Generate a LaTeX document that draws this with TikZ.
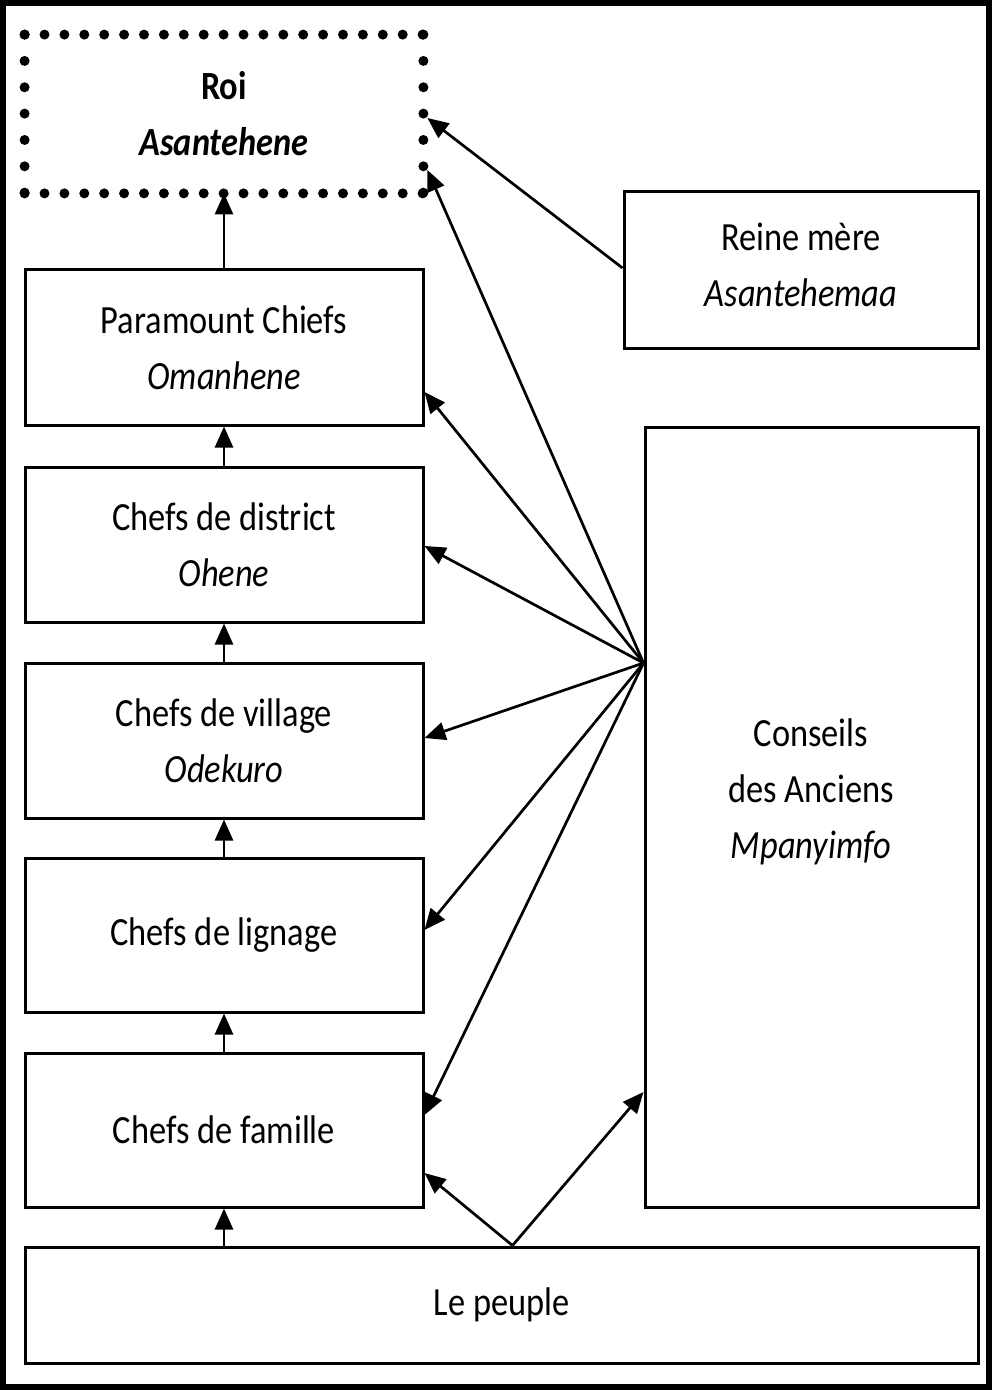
\documentclass[tikz,border=0pt]{standalone}
\usepackage{fontspec}
\setmainfont{Carlito}[FakeStretch=0.86]
\usetikzlibrary{arrows.meta,calc}
\begin{document}
\begin{tikzpicture}[x=0.5pt,y=-0.5pt,
  box/.style={draw,line width=1.5pt,inner sep=0pt,align=center,font=\lblfont},
  lbl/.style={inner sep=0pt,align=center,font=\lblfont},
  arr/.style={line width=1.35pt,-{Triangle[length=10.5pt,width=9pt]}},
  dotline/.style={line width=5pt,line cap=round}]
\newcommand{\lblfont}{\fontsize{20pt}{28pt}\selectfont}
\useasboundingbox (0,0) rectangle (992,1390);
\draw[line width=3pt] (3,3) rectangle (989,1387);

% boxes
\node[lbl,minimum width=199pt,minimum height=79pt] (roi) at (224,114)
  {\textbf{Roi}\\\textbf{\textit{Asantehene}}};
\draw[dotline,dash pattern=on 0pt off 9.95pt] (roi.north west) -- (roi.north east);
\draw[dotline,dash pattern=on 0pt off 9.95pt] (roi.south west) -- (roi.south east);
\draw[dotline,dash pattern=on 0pt off 13.17pt] (roi.north west) -- (roi.south west);
\draw[dotline,dash pattern=on 0pt off 13.17pt] (roi.north east) -- (roi.south east);

\node[box,minimum width=199pt,minimum height=77.5pt] (par) at (224,347.5)
  {Paramount Chiefs\\\textit{Omanhene}};
\node[box,minimum width=199pt,minimum height=77.5pt] (dis) at (224,544.5)
  {Chefs de district\\\textit{Ohene}};
\node[box,minimum width=199pt,minimum height=77.5pt] (vil) at (224,740.5)
  {Chefs de village\\\textit{Odekuro}};
\node[box,minimum width=199pt,minimum height=77pt] (lig) at (224,935)
  {Chefs de lignage};
\node[box,minimum width=199pt,minimum height=77pt] (fam) at (224,1130)
  {Chefs de famille};
\node[box,minimum width=476.5pt,minimum height=58pt] (peu) at (501.5,1305)
  {Le peuple};
\node[box,minimum width=177pt,minimum height=78pt] (rei) at (801,270) {};
\node[lbl] (reitxt) at (801,265) {Reine mère\\\textit{Asantehemaa}};
\node[box,minimum width=166.5pt,minimum height=390pt] (con) at (811.5,817) {};
\node[lbl] (contxt) at (811,792) {Conseils\\des Anciens\\\textit{Mpanyimfo}};

% vertical arrows
\draw[arr] (par.north) -- (roi.south);
\draw[arr] (dis.north) -- (par.south);
\draw[arr] (vil.north) -- (dis.south);
\draw[arr] (lig.north) -- (vil.south);
\draw[arr] (fam.north) -- (lig.south);
\draw[arr] (fam.south |- peu.north) -- (fam.south);

% fan from the council
\coordinate (fan) at (con.west |- 0,663);
\draw[arr] (fan) -- ($(roi.east |- 0,170)+(4,0)$);
\draw[arr] (fan) -- (par.east |- 0,392);
\draw[arr] (fan) -- (dis.east |- 0,546);
\draw[arr] (fan) -- (vil.east |- 0,738);
\draw[arr] (fan) -- (lig.east |- 0,930);
\draw[arr] (fan) -- (fam.east |- 0,1115);

% queen mother
\draw[arr] (rei.west |- 0,268) -- ($(roi.east |- 0,118)+(4,0)$);

% the people
\coordinate (apex) at ($(peu.north)+(11,0)$);
\draw[arr] (apex) -- (fam.east |- 0,1173);
\draw[arr] (apex) -- (con.west |- 0,1092);
\end{tikzpicture}
\end{document}
